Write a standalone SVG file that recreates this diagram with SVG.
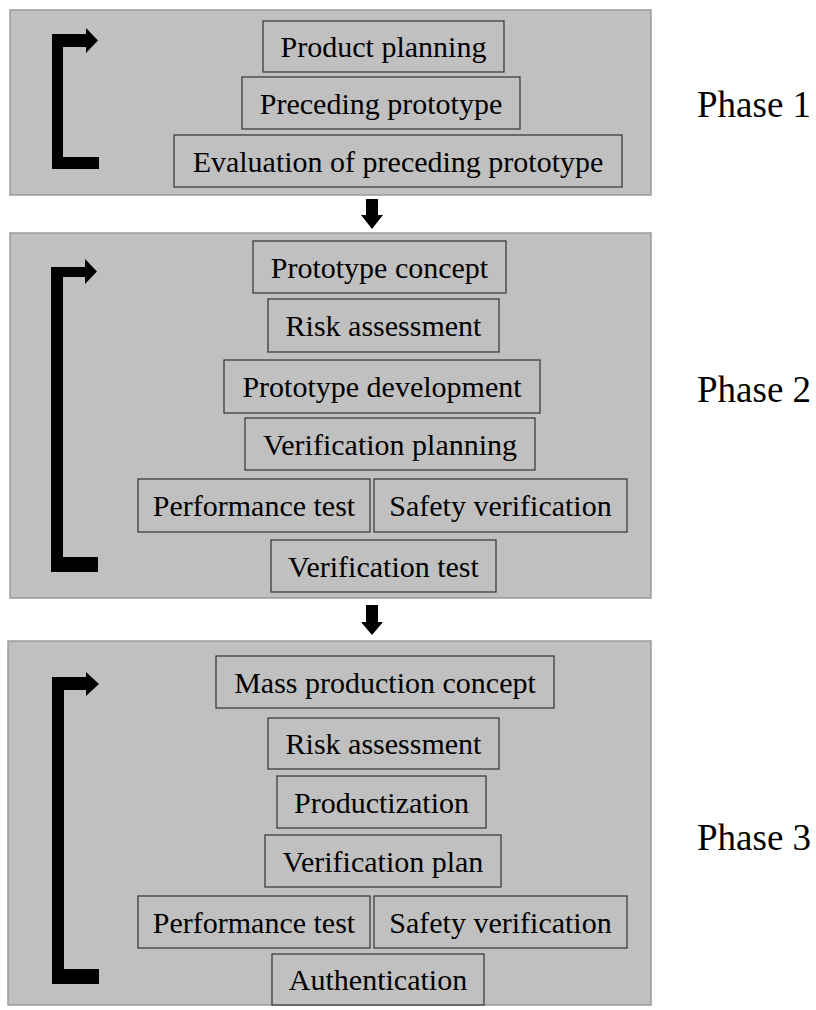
<svg xmlns="http://www.w3.org/2000/svg" width="816" height="1010" viewBox="0 0 816 1010">
  <style>
    .panel { fill: #c0c0c0; stroke: #9a9a9a; stroke-width: 1.5; }
    .box { fill: #c0c0c0; stroke: #333333; stroke-width: 1.2; }
    .lbl { font-family: "Liberation Serif", "Times New Roman", serif; font-size: 30px; fill: #000; text-anchor: middle; }
    .phase { font-family: "Liberation Serif", "Times New Roman", serif; font-size: 37px; fill: #000; }
    .conn { fill: #000; stroke: none; }
  </style>
  <rect width="816" height="1010" fill="#ffffff"/>

  <!-- phase panels -->
  <g id="panel1"><rect class="panel" x="10" y="10" width="641" height="185"/></g>
  <g id="panel2"><rect class="panel" x="10" y="233" width="641" height="365"/></g>
  <g id="panel3"><rect class="panel" x="8" y="641" width="643" height="364"/></g>

  <!-- connectors: loop brackets and phase-to-phase arrows -->
  <g id="connectors">
    <path class="conn" d="M52,34 H86 V28 L98,40.5 L86,53 V47 H63 V157 H99 V169 H52 Z"/>
    <path class="conn" d="M51,267 H85 V259 L97,271.5 L85,284 V277 H63 V557 H98 V572 H51 Z"/>
    <path class="conn" d="M52,677 H86 V672 L99,684 L86,696 V690 H64 V969 H99 V984 H52 Z"/>
    <path class="conn" d="M366,199 H378 V215 H383 L372,229 L361,215 H366 Z"/>
    <path class="conn" d="M366,605 H378 V622 H383 L372,635 L361,622 H366 Z"/>
  </g>

  <!-- Phase 1 -->
  <g id="product-planning">
    <rect class="box" x="263" y="21" width="241" height="51"/>
    <text class="lbl" x="383.5" y="57">Product planning</text>
  </g>
  <g id="preceding-prototype">
    <rect class="box" x="242" y="77" width="278" height="52"/>
    <text class="lbl" x="381" y="113.5">Preceding prototype</text>
  </g>
  <g id="evaluation">
    <rect class="box" x="174" y="135" width="448" height="52"/>
    <text class="lbl" x="398" y="171.5">Evaluation of preceding prototype</text>
  </g>
  <g id="phase1-label"><text class="phase" x="697" y="117">Phase 1</text></g>

  <!-- Phase 2 -->
  <g id="prototype-concept">
    <rect class="box" x="253" y="241" width="253" height="52"/>
    <text class="lbl" x="379.5" y="277.5">Prototype concept</text>
  </g>
  <g id="risk-assessment-2">
    <rect class="box" x="268" y="299" width="231" height="53"/>
    <text class="lbl" x="383.5" y="336">Risk assessment</text>
  </g>
  <g id="prototype-development">
    <rect class="box" x="224" y="360" width="316" height="53"/>
    <text class="lbl" x="382" y="397">Prototype development</text>
  </g>
  <g id="verification-planning">
    <rect class="box" x="245" y="418" width="290" height="52"/>
    <text class="lbl" x="390" y="454.5">Verification planning</text>
  </g>
  <g id="performance-test-2">
    <rect class="box" x="138" y="479" width="232" height="53"/>
    <text class="lbl" x="254" y="516">Performance test</text>
  </g>
  <g id="safety-verification-2">
    <rect class="box" x="374" y="479" width="253" height="53"/>
    <text class="lbl" x="500.5" y="516">Safety verification</text>
  </g>
  <g id="verification-test">
    <rect class="box" x="271" y="540" width="225" height="52"/>
    <text class="lbl" x="383.5" y="576.5">Verification test</text>
  </g>
  <g id="phase2-label"><text class="phase" x="697" y="402">Phase 2</text></g>

  <!-- Phase 3 -->
  <g id="mass-production-concept">
    <rect class="box" x="216" y="656" width="338" height="52"/>
    <text class="lbl" x="385" y="692.5">Mass production concept</text>
  </g>
  <g id="risk-assessment-3">
    <rect class="box" x="268" y="718" width="231" height="51"/>
    <text class="lbl" x="383.5" y="754">Risk assessment</text>
  </g>
  <g id="productization">
    <rect class="box" x="277" y="776" width="209" height="52"/>
    <text class="lbl" x="381.5" y="812.5">Productization</text>
  </g>
  <g id="verification-plan">
    <rect class="box" x="265" y="835" width="236" height="52"/>
    <text class="lbl" x="383" y="871.5">Verification plan</text>
  </g>
  <g id="performance-test-3">
    <rect class="box" x="138" y="896" width="232" height="52"/>
    <text class="lbl" x="254" y="932.5">Performance test</text>
  </g>
  <g id="safety-verification-3">
    <rect class="box" x="374" y="896" width="253" height="52"/>
    <text class="lbl" x="500.5" y="932.5">Safety verification</text>
  </g>
  <g id="authentication">
    <rect class="box" x="272" y="954" width="212" height="51"/>
    <text class="lbl" x="378" y="990">Authentication</text>
  </g>
  <g id="phase3-label"><text class="phase" x="697" y="850">Phase 3</text></g>
</svg>
